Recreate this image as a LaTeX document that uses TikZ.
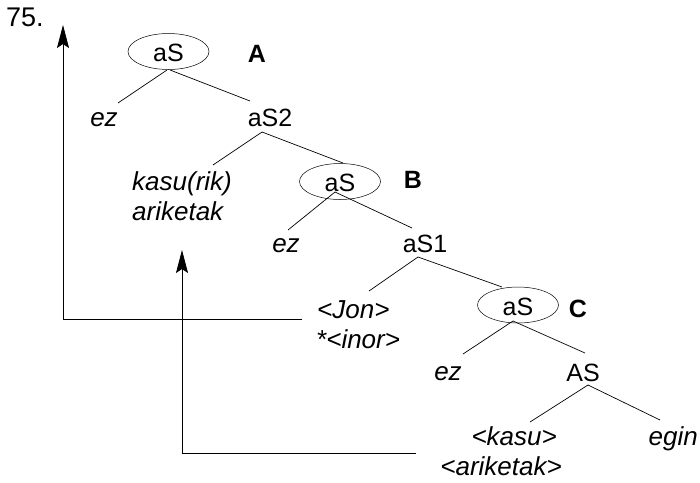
\documentclass[tikz,border=0pt]{standalone}
\usepackage{fontspec}
\setmainfont{Liberation Sans}
\usetikzlibrary{calc,arrows.meta,shapes.geometric}
\begin{document}
\begin{tikzpicture}[x=1pt,y=-1pt,
  txt/.style={inner sep=0pt, anchor=base, font=\fontsize{25}{30}\selectfont},
  itx/.style={inner sep=0pt, anchor=base, font=\fontsize{26}{31}\selectfont\itshape},
  lbl/.style={inner sep=0pt, anchor=base, font=\fontsize{25}{30}\selectfont\bfseries},
  ell/.style={draw, ellipse, inner sep=0pt, minimum width=81pt, minimum height=36pt,
    text height=20pt, text depth=0pt, font=\fontsize{25}{30}\selectfont, line width=0.5pt},
  edge/.style={line width=0.7pt},
  arr/.style={line width=0.8pt, -{Stealth[length=23pt,width=12pt,inset=4pt]}}
]
\useasboundingbox (0,0) rectangle (700,482);

\node[txt, anchor=base west, font=\fontsize{27}{32}\selectfont] (num) at (6,26.5) {75.};

\node[ell] (eA) at (168.5,51.5) {aS};
\node[lbl] (lA) at (257,62) {A};
\node[itx] (ez1) at (104,126) {ez};
\node[txt] (aS2) at (270,126) {aS2};
\node[itx, anchor=base west] (kr) at (132,190) {kasu(rik)};
\node[itx, anchor=base west] (ar) at (132,220) {ariketak};

\node[ell] (eB) at (340,181.5) {aS};
\node[lbl] (lB) at (413,188) {B};
\node[itx] (ez2) at (286,252) {ez};
\node[txt] (aS1) at (425,252) {aS1};
\node[itx, anchor=base west] (jon) at (317,318) {<Jon>};
\node[itx, anchor=base west] (inor) at (316,348) {*<inor>};

\node[ell] (eC) at (518,305) {aS};
\node[lbl] (lC) at (578,317) {C};
\node[itx] (ez3) at (448,380) {ez};
\node[txt] (AS) at (583,381) {AS};
\node[itx, anchor=base east] (kasu) at (557,445) {<kasu>};
\node[itx, anchor=base east] (arik) at (562,475) {<ariketak>};
\node[itx, anchor=base east] (egin) at (698,445) {egin};

% tree edges
\draw[edge] ($(eA.center)+(-1.5,18.5)$) -- ($(ez1.base)+(14,-23)$);
\draw[edge] ($(eA.center)+(1.5,18.5)$) -- ($(aS2.base)+(-20,-25)$);
\draw[edge] ($(aS2.base)+(-8,6)$) -- ($(kr.base west)+(81,-25)$);
\draw[edge] ($(aS2.base)+(-8,6)$) -- ($(eB.center)+(3,-18.5)$);
\draw[edge] ($(eB.center)+(-5,10.5)$) -- ($(ez2.base)+(2,-22)$);
\draw[edge] ($(eB.center)+(-5,10.5)$) -- ($(aS1.base)+(-13,-24)$);
\draw[edge] ($(aS1.base)+(-7,5)$) -- ($(jon.base west)+(52,-27)$);
\draw[edge] ($(aS1.base)+(-7,5)$) -- ($(eC.center)+(-16,-18)$);
\draw[edge] ($(eC.center)+(-5,16)$) -- ($(ez3.base)+(15,-26)$);
\draw[edge] ($(eC.center)+(-5,16)$) -- ($(AS.base)+(2,-28)$);
\draw[edge] ($(AS.base)+(5,4)$) -- ($(kasu.base east)+(-27,-23)$);
\draw[edge] ($(AS.base)+(5,4)$) -- ($(egin.base east)+(-38,-25)$);

% movement arrows
\coordinate (tip1) at (63,25);
\draw[arr] ($(jon.base west)+(-15,1)$) -| (tip1);
\coordinate (tip2) at (182,250);
\draw[arr] ($(arik.base east)+(-146,-22)$) -| (tip2);
\end{tikzpicture}
\end{document}
